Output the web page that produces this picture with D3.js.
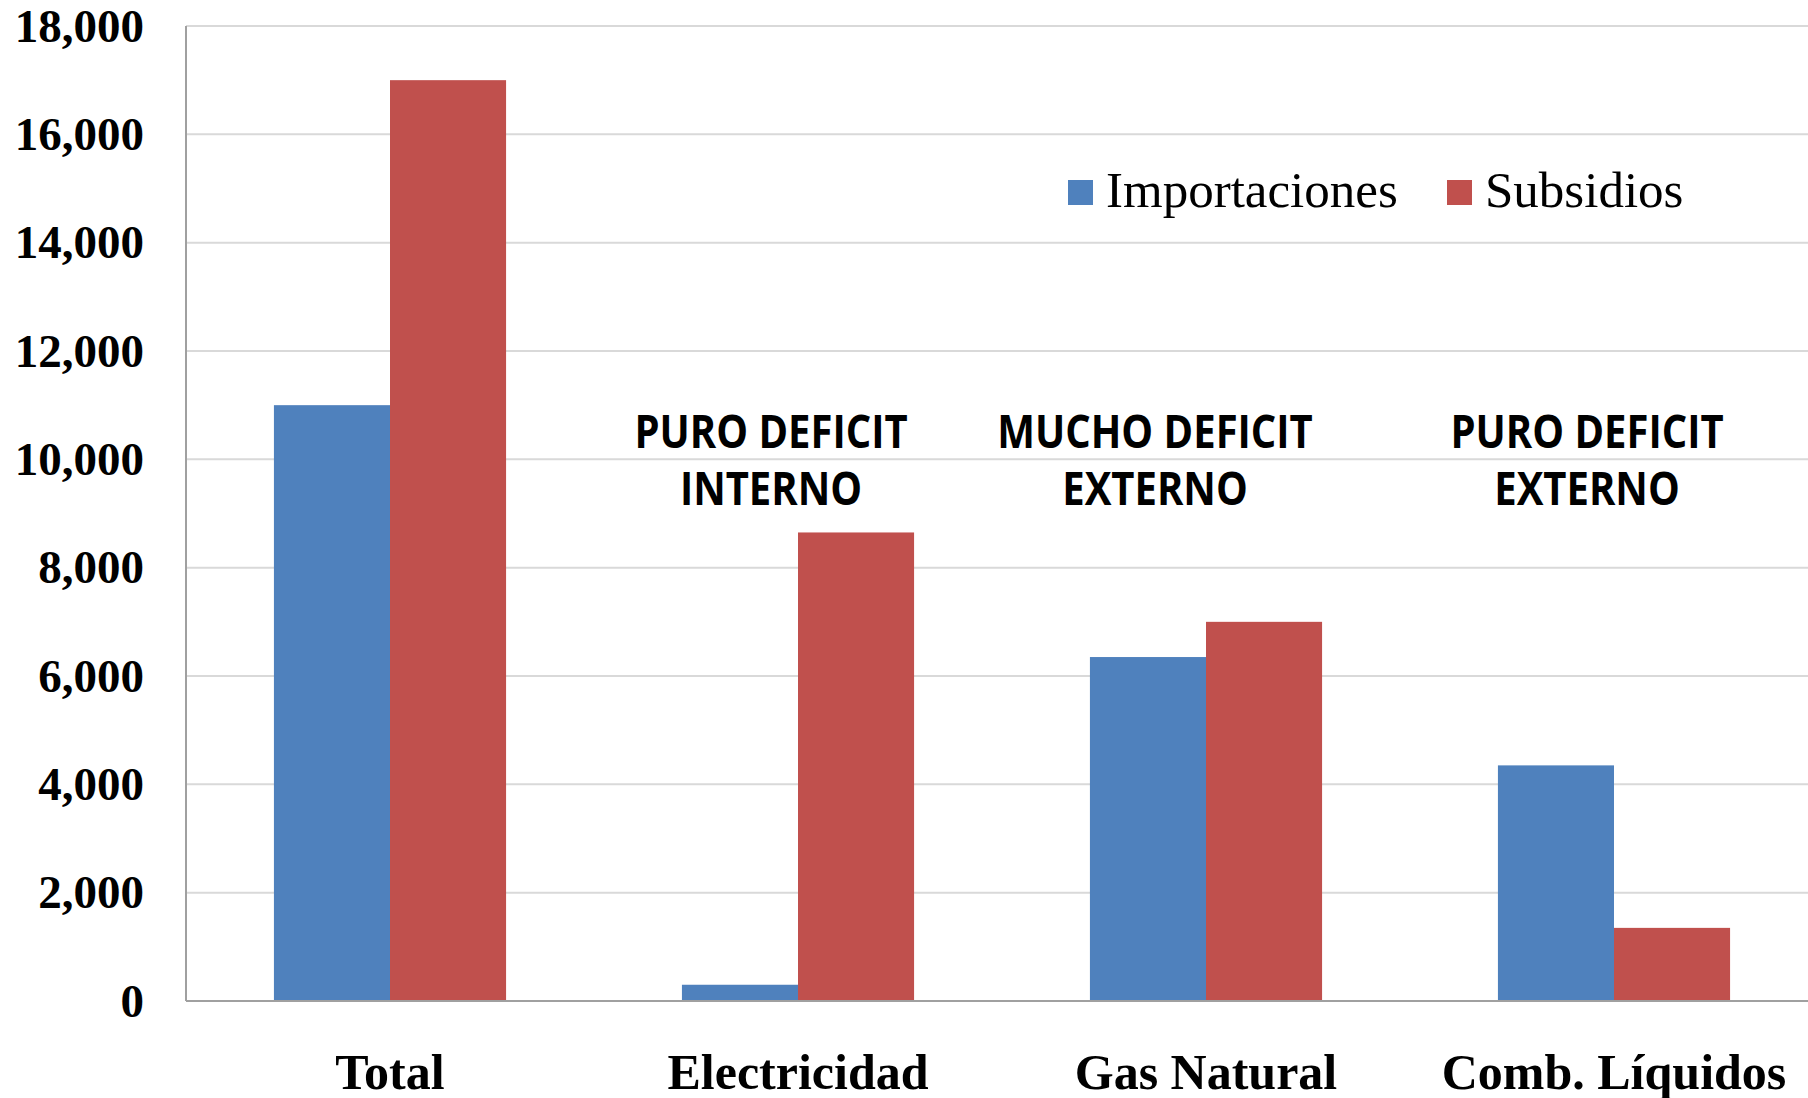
<!DOCTYPE html>
<html>
<head>
<meta charset="utf-8">
<script src="https://cdn.jsdelivr.net/npm/d3@7"></script>
<style>
  body { margin: 0; background: #fff; }
  svg { display: block; }
</style>
</head>
<body>
<div id="chart"></div>
<script>
var categories = ['Total', 'Electricidad', 'Gas Natural', 'Comb. Líquidos']
var seriesNames = ['Importaciones', 'Subsidios']
var importaciones = [11000, 300, 6350, 4350]
var subsidios = [17000, 8650, 7000, 1350]
var yTicks = [0, 2000, 4000, 6000, 8000, 10000, 12000, 14000, 16000, 18000]
var notes = [
  { cat: 'Electricidad', lines: ['PURO DEFICIT', 'INTERNO'] },
  { cat: 'Gas Natural', lines: ['MUCHO DEFICIT', 'EXTERNO'] },
  { cat: 'Comb. Líquidos', lines: ['PURO DEFICIT', 'EXTERNO'] }
]

var width = 1808,
    height = 1098
var margin = { top: 26, right: -10, bottom: 97, left: 186 }
var colors = { Importaciones: '#4f81bd', Subsidios: '#c0504d' }

var svg = d3.select('#chart').append('svg')
    .attr('width', width).attr('height', height)

var x0 = d3.scaleBand()
    .domain(categories)
    .range([margin.left, width - margin.right])
    .paddingInner(0.431)
    .paddingOuter(0.2155)

var x1 = d3.scaleBand()
    .domain(seriesNames)
    .range([0, x0.bandwidth()])

var y = d3.scaleLinear()
    .domain([0, 18000])
    .range([height - margin.bottom, margin.top])

// gridlines
svg.append('g')
    .selectAll('line')
    .data(yTicks.filter(function(d){ return d > 0 }))
    .enter().append('line')
    .attr('x1', margin.left).attr('x2', width)
    .attr('y1', function(d){ return y(d) }).attr('y2', function(d){ return y(d) })
    .style('stroke', '#d9d9d9')
    .style('stroke-width', 2)

// bars
var rows = categories.map(function(c, i){
    return { cat: c, vals: [
        { name: 'Importaciones', v: importaciones[i] },
        { name: 'Subsidios', v: subsidios[i] }] }
})
svg.append('g')
    .selectAll('g')
    .data(rows)
    .enter().append('g')
    .attr('transform', function(d){ return 'translate(' + x0(d.cat) + ',0)' })
    .selectAll('rect')
    .data(function(d){ return d.vals })
    .enter().append('rect')
    .attr('x', function(d){ return x1(d.name) })
    .attr('y', function(d){ return y(d.v) })
    .attr('width', x1.bandwidth())
    .attr('height', function(d){ return y(0) - y(d.v) })
    .style('fill', function(d){ return colors[d.name] })

// axes lines
svg.append('line')
    .attr('x1', margin.left).attr('x2', margin.left)
    .attr('y1', y(18000)).attr('y2', y(0))
    .style('stroke', '#a0a0a0').style('stroke-width', 2)
svg.append('line')
    .attr('x1', margin.left).attr('x2', width)
    .attr('y1', y(0)).attr('y2', y(0))
    .style('stroke', '#a0a0a0').style('stroke-width', 2)

// y axis labels
var yAxis = d3.axisLeft(y)
    .tickValues(yTicks)
    .tickFormat(d3.format(','))
    .tickSize(0)
    .tickPadding(42)
var yG = svg.append('g')
    .attr('transform', 'translate(' + margin.left + ',0)')
    .call(yAxis)
yG.select('.domain').remove()
yG.selectAll('text')
    .style('font-family', '"Liberation Serif", "DejaVu Serif", serif')
    .style('font-weight', 'bold')
    .style('font-size', '47px')
    .style('fill', '#000')

// category labels
svg.append('g')
    .selectAll('text')
    .data(categories)
    .enter().append('text')
    .attr('x', function(d){ return x0(d) + x0.bandwidth() / 2 })
    .attr('y', 1089)
    .attr('text-anchor', 'middle')
    .style('font-family', '"Liberation Serif", "DejaVu Serif", serif')
    .style('font-weight', 'bold')
    .style('font-size', '50px')
    .text(function(d){ return d })

// annotations (condensed bold sans, squeezed horizontally)
var noteShift = { 'Electricidad': -27, 'Gas Natural': -51, 'Comb. Líquidos': -27 }
var note = svg.append('g')
    .selectAll('text')
    .data(notes)
    .enter().append('text')
    .attr('text-anchor', 'middle')
    .attr('transform', function(d){
        var cx = x0(d.cat) + x0.bandwidth() / 2 + noteShift[d.cat]
        return 'translate(' + cx + ',0) scale(0.87,1)'
    })
    .style('font-family', '"Open Sans", "Liberation Sans", sans-serif')
    .style('font-weight', 'bold')
    .style('font-size', '46px')
note.selectAll('tspan')
    .data(function(d){ return d.lines.map(function(l, i){ return { t: l, i: i } }) })
    .enter().append('tspan')
    .attr('x', 0)
    .attr('y', function(d){ return 448 + d.i * 57 })
    .text(function(d){ return d.t })

// legend
var legendX = [1068, 1447]
var legend = svg.append('g')
    .selectAll('g')
    .data(seriesNames)
    .enter().append('g')
    .attr('transform', function(d, i){ return 'translate(' + legendX[i] + ',180)' })
legend.append('rect')
    .attr('width', 25).attr('height', 25)
    .style('fill', function(d){ return colors[d] })
legend.append('text')
    .attr('x', 38).attr('y', 27)
    .style('font-family', '"Liberation Serif", "DejaVu Serif", serif')
    .style('font-size', '51px')
    .text(function(d){ return d })
</script>
</body>
</html>
